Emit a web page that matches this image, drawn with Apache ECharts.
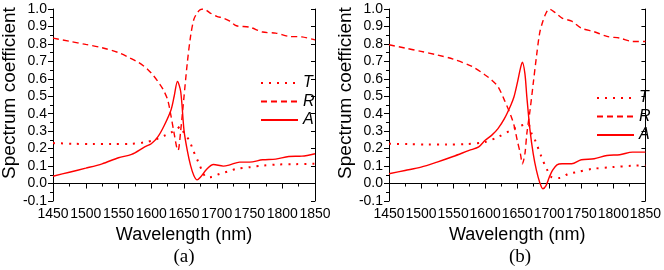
<!DOCTYPE html>
<html><head><meta charset="utf-8">
<script src="https://cdn.jsdelivr.net/npm/echarts@6/dist/echarts.min.js"></script>
<style>html,body{margin:0;padding:0;background:#fff}#c{width:664px;height:270px}</style>
</head><body><div id="c"></div>
<script>
// Panel (a) data: [wavelength nm, value]
const Ta = [[1450,0.232],[1480,0.228],[1510,0.226],[1540,0.226],[1570,0.228],[1590,0.236],[1605,0.25],[1620,0.274],[1630,0.292],[1640,0.315],[1644,0.326],[1650,0.29],[1658,0.247],[1664,0.19],[1672,0.122],[1678,0.07],[1684,0.036],[1692,0.038],[1705,0.056],[1718,0.07],[1730,0.084],[1751,0.094],[1771,0.103],[1792,0.109],[1820,0.111],[1850,0.113]];
const Ra = [[1450,0.833],[1475,0.815],[1500,0.797],[1525,0.778],[1550,0.75],[1567,0.72],[1580,0.695],[1593,0.66],[1603,0.62],[1612,0.575],[1618,0.54],[1625,0.48],[1630,0.39],[1635,0.286],[1639,0.205],[1641,0.19],[1645,0.305],[1650,0.497],[1655,0.69],[1660,0.843],[1665,0.94],[1670,0.977],[1675,0.996],[1680,1.0],[1690,0.977],[1700,0.958],[1710,0.948],[1720,0.93],[1730,0.904],[1750,0.896],[1770,0.868],[1790,0.862],[1810,0.843],[1830,0.84],[1850,0.823]];
const Aa = [[1450,0.042],[1475,0.065],[1500,0.088],[1525,0.113],[1550,0.148],[1570,0.167],[1590,0.21],[1600,0.228],[1610,0.267],[1620,0.334],[1630,0.42],[1635,0.5],[1640,0.585],[1645,0.526],[1650,0.305],[1655,0.19],[1660,0.104],[1665,0.046],[1670,0.021],[1675,0.036],[1685,0.084],[1695,0.109],[1710,0.1],[1720,0.107],[1735,0.123],[1750,0.123],[1770,0.136],[1790,0.14],[1810,0.155],[1830,0.157],[1850,0.171]];
// Panel (b) data
const Tb = [[1450,0.228],[1480,0.226],[1510,0.224],[1540,0.224],[1570,0.226],[1600,0.238],[1620,0.267],[1640,0.305],[1650,0.324],[1660,0.336],[1667,0.34],[1672,0.29],[1678,0.247],[1688,0.151],[1696,0.084],[1704,0.036],[1716,0.032],[1730,0.056],[1742,0.065],[1767,0.084],[1798,0.094],[1830,0.102],[1850,0.104]];
const Rb = [[1450,0.795],[1475,0.776],[1500,0.757],[1525,0.737],[1550,0.713],[1580,0.67],[1600,0.622],[1610,0.593],[1620,0.555],[1630,0.478],[1640,0.39],[1645,0.334],[1650,0.248],[1655,0.17],[1658,0.113],[1662,0.17],[1665,0.286],[1670,0.42],[1675,0.574],[1680,0.727],[1685,0.862],[1690,0.93],[1695,0.977],[1700,1.0],[1710,0.977],[1720,0.948],[1735,0.93],[1750,0.89],[1770,0.87],[1790,0.843],[1810,0.833],[1830,0.814],[1850,0.814]];
const Ab = [[1450,0.056],[1475,0.075],[1500,0.094],[1525,0.123],[1550,0.155],[1575,0.19],[1590,0.21],[1600,0.248],[1610,0.276],[1620,0.315],[1630,0.372],[1640,0.449],[1645,0.497],[1650,0.574],[1655,0.66],[1658,0.695],[1662,0.63],[1665,0.497],[1670,0.305],[1675,0.17],[1680,0.075],[1685,0.008],[1690,-0.03],[1695,-0.012],[1700,0.036],[1705,0.075],[1712,0.107],[1720,0.113],[1735,0.113],[1750,0.136],[1770,0.142],[1790,0.161],[1810,0.165],[1830,0.18],[1850,0.18]];
const seriesNames = ['T','R','A'];
const xName = 'Wavelength (nm)';
const yName = 'Spectrum coefficient';
const captions = ['(a)','(b)'];

const RED = '#ff0000';
const FONT = '"Liberation Sans Narrow", "Liberation Sans", sans-serif';
const grids = [{left:53, top:9, width:262, height:192},{left:389, top:9, width:262, height:192}];
const styles = {
  T:{type:[2,6], width:2},
  R:{type:[6,4], width:1.4},
  A:{type:'solid', width:1.4}
};
const xAxes=[], yAxes=[], series=[], legends=[], graphics=[];
grids.forEach((g,i)=>{
  xAxes.push({gridIndex:i, type:'value', min:1450, max:1850, interval:50, position:'bottom',
    name:xName, nameLocation:'middle', nameGap:24, nameTextStyle:{fontFamily:FONT, fontSize:18, color:'#000'},
    axisLine:{lineStyle:{color:'#000', width:1}}, axisTick:{inside:false, length:5, lineStyle:{color:'#000'}},
    minorTick:{show:true, splitNumber:2, length:3, lineStyle:{color:'#000'}},
    axisLabel:{fontFamily:FONT, fontSize:14, color:'#000', margin:6, formatter:v=>String(v)}, splitLine:{show:false}});
  xAxes.push({gridIndex:i, type:'value', min:1450, max:1850, interval:50, position:'top',
    axisLine:{lineStyle:{color:'#000', width:1}}, axisTick:{show:false}, axisLabel:{show:false}, splitLine:{show:false}});
  yAxes.push({gridIndex:i, type:'value', min:-0.1, max:1.0, interval:0.1, position:'left',
    axisLine:{lineStyle:{color:'#000', width:1}}, axisTick:{inside:false, length:5, lineStyle:{color:'#000'}},
    minorTick:{show:true, splitNumber:2, length:3, lineStyle:{color:'#000'}},
    axisLabel:{fontFamily:FONT, fontSize:14, color:'#000', margin:6, formatter:v=>v.toFixed(1)}, splitLine:{show:false}});
  yAxes.push({gridIndex:i, type:'value', min:-0.1, max:1.0, interval:0.1, position:'right',
    axisLine:{lineStyle:{color:'#000', width:1}}, axisTick:{inside:true, length:4, lineStyle:{color:'#000'}},
    axisLabel:{show:false}, splitLine:{show:false}});
  const data = i===0 ? {T:Ta,R:Ra,A:Aa} : {T:Tb,R:Rb,A:Ab};
  seriesNames.forEach(n=>{
    series.push({name:n, type:'line', xAxisIndex:i*2, yAxisIndex:i*2, data:data[n], symbol:'none', smooth:0.3,
      clip:true, lineStyle:{color:RED, width:styles[n].width, type:styles[n].type}, itemStyle:{color:RED}});
  });
  legends.push({data:seriesNames, orient:'vertical', left:g.left+202, top:i===0?70:85, itemWidth:37, itemHeight:10, itemGap:2.5,
    itemStyle:{color:'transparent', borderColor:'transparent', borderWidth:0, opacity:0},
    textStyle:{fontFamily:'"Liberation Sans", sans-serif', fontStyle:'italic', fontSize:16, color:'#000', padding:[0,0,0,0]}, selectedMode:false});
  graphics.push({type:'text', x:g.left + g.width/2, y:257, style:{text:captions[i], font:'19px "Liberation Serif"', fill:'#000', align:'center', verticalAlign:'middle'}});
  graphics.push({type:'text', x:g.left - 43, y:93, rotation:Math.PI/2, style:{text:yName, font:'19px "Liberation Sans"', fill:'#000', align:'center', verticalAlign:'middle'}});
});
const chart = echarts.init(document.getElementById('c'), null, {renderer:'canvas'});
chart.setOption({animation:false, grid:grids, xAxis:xAxes, yAxis:yAxes, series, legend:legends, graphic:graphics});
</script></body></html>
